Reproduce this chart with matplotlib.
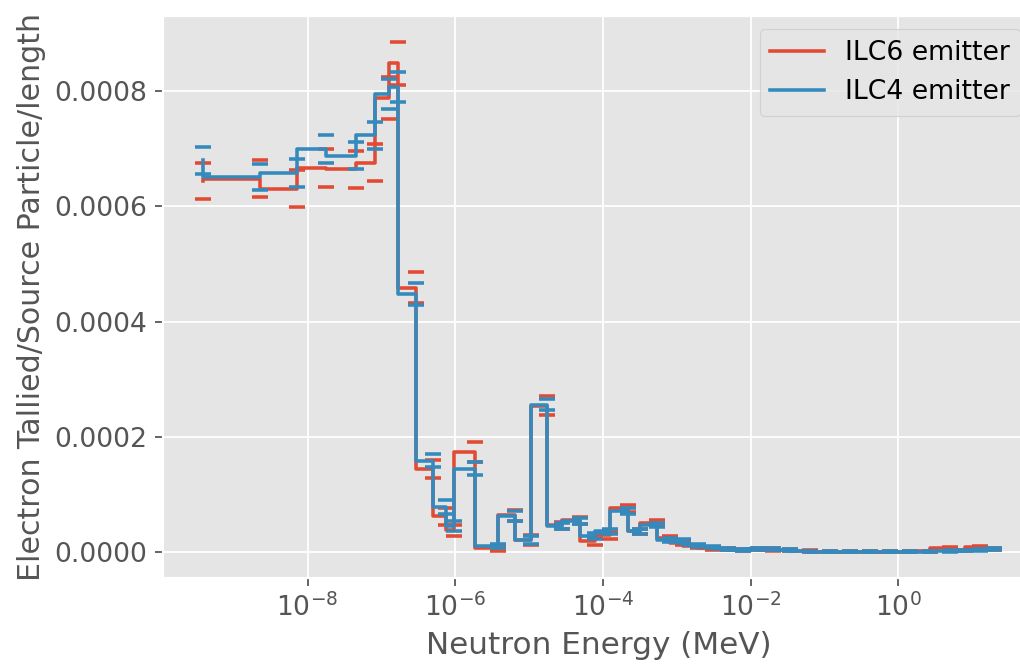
import numpy as np
import matplotlib
matplotlib.use("Agg")
import matplotlib.pyplot as plt

# ------------- data ----------------------------------------
# neutron energy grid (MeV), shared by both emitters
energy = [3.79e-10, 2.24e-9, 7.3e-9, 1.75e-8, 4.6e-8, 8.3e-8, 1.25e-7, 1.7e-7,
          2.9e-7, 5.07e-7, 7.4e-7, 9.5e-7, 1.87e-6, 3.85e-6, 6.5e-6, 1.07e-5,
          1.77e-5, 2.82e-5, 4.94e-5, 7.9e-5, 1.26e-4, 2.21e-4, 3.2e-4, 5.44e-4,
          8.2e-4, 1.22e-3, 1.95e-3, 3.12e-3, 4.98e-3, 7.94e-3, 1.27e-2, 2.02e-2,
          3.44e-2, 6.4e-2, 0.119, 0.223, 0.415, 0.774, 1.44, 2.69, 5.02, 8.0,
          12.8, 20.0]

ilc6 = [6.44e-4, 6.48e-4, 6.31e-4, 6.67e-4, 6.64e-4, 6.76e-4, 7.88e-4, 8.48e-4,
        4.59e-4, 1.45e-4, 6.2e-5, 3.8e-5, 1.73e-4, 6.9e-6, 6.4e-5, 2.1e-5,
        2.54e-4, 4.7e-5, 5.5e-5, 1.9e-5, 2.9e-5, 7.6e-5, 3.6e-5, 5.0e-5,
        2.4e-5, 1.6e-5, 1.0e-5, 7.0e-6, 5.5e-6, 3.5e-6, 5.2e-6, 4.5e-6,
        3.5e-6, 1.7e-6, 1.0e-6, 6e-7, 5e-7, 6e-7, 8e-7, 1.2e-6, 6.9e-6, 3.0e-6,
        8.6e-6, 6.0e-6]
ilc6_err = [3.2e-5, 3.2e-5, 3.28e-5, 3.28e-5, 3.28e-5, 3.2e-5, 3.63e-5, 3.8e-5,
            2.68e-5, 1.56e-5, 1.5e-5, 1.0e-5, 1.73e-5, 5e-6, 9.5e-6, 8.6e-6,
            1.64e-5, 6e-6, 6e-6, 6e-6, 6e-6, 6e-6, 5e-6, 5e-6,
            4e-6, 3e-6, 3e-6, 2.5e-6, 2e-6, 2e-6, 2e-6, 2e-6,
            1.5e-6, 1.5e-6, 1e-6, 1e-6, 1e-6, 1e-6, 1e-6, 1e-6, 1.5e-6, 1.5e-6,
            1.5e-6, 1.5e-6]

ilc4 = [6.80e-4, 6.51e-4, 6.58e-4, 7.00e-4, 6.88e-4, 7.23e-4, 7.95e-4, 8.07e-4,
        4.48e-4, 1.59e-4, 7.8e-5, 4.5e-5, 1.45e-4, 1.0e-5, 6.2e-5, 2.1e-5,
        2.56e-4, 4.5e-5, 5.4e-5, 2.8e-5, 3.6e-5, 7.1e-5, 3.6e-5, 4.7e-5,
        2.1e-5, 1.9e-5, 1.2e-5, 8.6e-6, 5.2e-6, 3.5e-6, 5.2e-6, 5.2e-6,
        3.5e-6, 1.7e-6, 9e-7, 7e-7, 5e-7, 5e-7, 7e-7, 9e-7, 1.7e-6, 2.6e-6,
        3.5e-6, 5.2e-6]
ilc4_err = [2.33e-5, 2.33e-5, 2.42e-5, 2.42e-5, 2.33e-5, 2.42e-5, 2.68e-5, 2.6e-5,
            1.9e-5, 1.12e-5, 1.2e-5, 8.6e-6, 1.12e-5, 3.5e-6, 8.6e-6, 6.9e-6,
            9.5e-6, 5e-6, 5e-6, 5e-6, 5e-6, 5e-6, 4e-6, 4e-6,
            3.5e-6, 3e-6, 2.5e-6, 2e-6, 2e-6, 1.5e-6, 1.5e-6, 1.5e-6,
            1.2e-6, 1e-6, 1e-6, 1e-6, 1e-6, 1e-6, 1e-6, 1e-6, 1.2e-6, 1.2e-6,
            1.2e-6, 1.2e-6]
# ----------------------------------------------------------

plt.style.use('ggplot')
plt.rcParams['xtick.labelsize'] = 12
plt.rcParams['ytick.labelsize'] = 12

fig = plt.figure(figsize=(6.375, 4.1875), dpi=160)
ax = fig.add_axes([163 / 1020, 92 / 670, 871 / 1020, 562 / 670])

series = [(ilc6, ilc6_err, 'ILC6 emitter', '#E24A33'),
          (ilc4, ilc4_err, 'ILC4 emitter', '#348ABD')]

for vals, errs, lab, col in series:
    ax.step(energy, vals, where='pre', color=col, label=lab, lw=1.6)
    eb = ax.errorbar(energy, vals, yerr=errs, fmt='none', ecolor=col,
                     capsize=3.5, capthick=1.6)
    for lc in eb[2]:
        lc.set_visible(False)

ax.set_xscale('log')
ax.set_xlabel('Neutron Energy (MeV)', fontsize=14)
ax.set_ylabel('Electron Tallied/Source Particle/length', fontsize=13.5)
ax.legend(fontsize=12)

fig.savefig('out.png', dpi=160)
